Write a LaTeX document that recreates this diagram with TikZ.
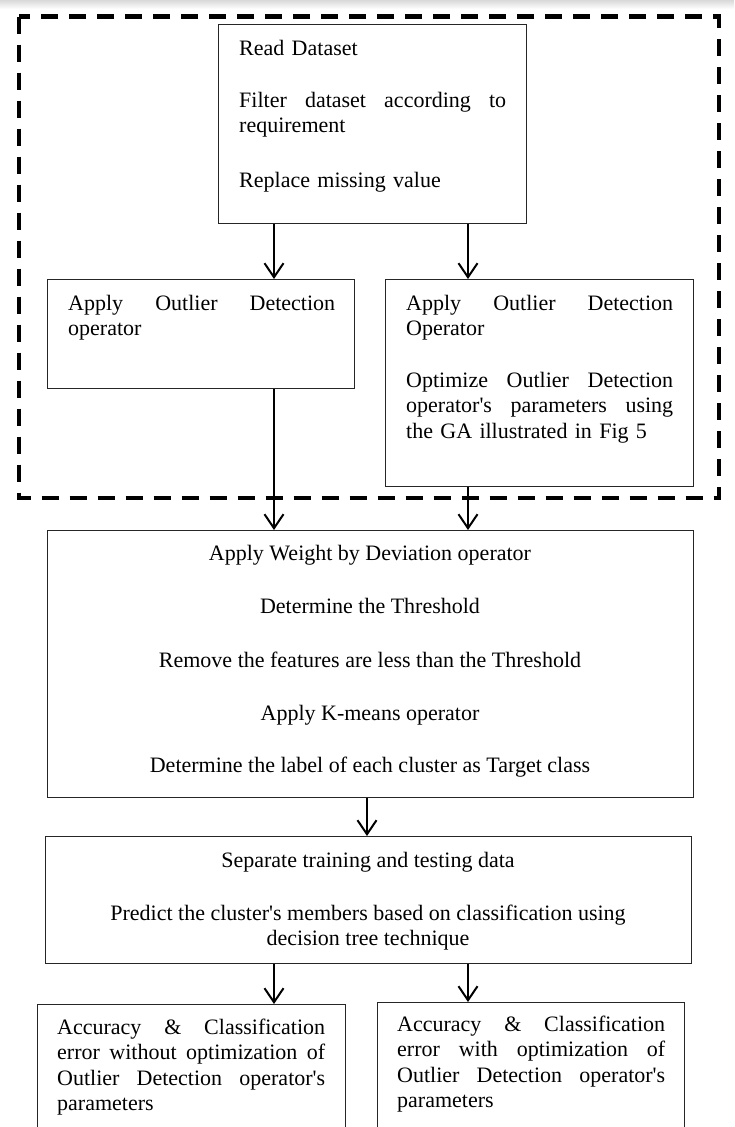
\documentclass[tikz,border=0pt]{standalone}
\usepackage{fontspec}
\setmainfont{Liberation Serif}
\usetikzlibrary{arrows.meta}
% a line stretched to the full text width (justified line)
\newcommand\jl[1]{\leavevmode\hbox to \hsize{#1}}
% straight apostrophe
\newcommand\ap{\textquotesingle}
\begin{document}
\begin{tikzpicture}[x=1pt,y=-1pt,
  box/.style={draw=black!85, line width=1.3pt, inner sep=0pt, anchor=north west},
  txt/.style={inner sep=0pt, anchor=north west, align=left,
    font=\fontsize{22}{25.5}\selectfont},
  ctr/.style={inner sep=0pt, anchor=base, font=\fontsize{22}{25.5}\selectfont},
  ctrblock/.style={inner sep=0pt, anchor=north, align=center,
    font=\fontsize{22}{25.5}\selectfont},
  arr/.style={line width=2pt, -{Straight Barb[length=14pt,width=19pt,line width=2pt]}},
  frame/.style={line width=4.6pt, dash pattern=on 17pt off 11pt}]
\useasboundingbox (0,0) rectangle (734,1127);
\clip (0,0) rectangle (734,1127);
\fill[white] (0,0) rectangle (734,1127);
\shade[top color=gray!30, bottom color=white] (0,0) rectangle (734,9);

% dashed frame around the outlier detection stage
\draw[frame] (19,16.5) rectangle (719,498);

% boxes
\node[box, minimum width=308, minimum height=199] (read) at (218,24) {};
\node[box, minimum width=307, minimum height=109] (od1) at (47,279) {};
\node[box, minimum width=308, minimum height=207] (od2) at (385,279) {};
\node[box, minimum width=646, minimum height=267] (wdev) at (47,530) {};
\node[box, minimum width=646, minimum height=127] (sep) at (45,836) {};
\node[box, minimum width=308, minimum height=140] (accL) at (37,1004) {};
\node[box, minimum width=307, minimum height=142] (accR) at (377,1002) {};

% box texts (first-line baseline minus strut height 17.85)
\node[txt, text width=267] (r1) at (239,37.15) {\strut Read Dataset};
\node[txt, text width=267] (r2) at (239,89.15)
  {\jl{\strut Filter\hfill dataset\hfill according\hfill to}\\requirement};
\node[txt, text width=267] (r3) at (239,169.15) {\strut Replace missing value};

\node[txt, text width=267] (o1) at (68,292.15)
  {\jl{\strut Apply\hfill Outlier\hfill Detection}\\operator};

\node[txt, text width=267] (o2a) at (406,292.15)
  {\jl{\strut Apply\hfill Outlier\hfill Detection}\\Operator};
\node[txt, text width=267] (o2b) at (406,369.15)
  {\jl{\strut Optimize\hfill Outlier\hfill Detection}\\
   \jl{operator\ap s\hfill parameters\hfill using}\\the GA illustrated in Fig 5};

\node[ctr] (w1) at (370,560) {Apply Weight by Deviation operator};
\node[ctr] (w2) at (370,613) {Determine the Threshold};
\node[ctr] (w3) at (370,667) {Remove the features are less than the Threshold};
\node[ctr] (w4) at (370,720) {Apply K-means operator};
\node[ctr] (w5) at (370,772) {Determine the label of each cluster as Target class};

\node[ctr] (s1) at (368,867) {Separate training and testing data};
\node[ctrblock] (s2) at (368,902.15)
  {\strut Predict the cluster\ap s members based on classification using\\
   decision tree technique};

\node[txt, text width=268] (aL) at (57,1016.15)
  {\jl{\strut Accuracy\hfill \&\hfill Classification}\\
   \jl{error\hfill without\hfill optimization\hfill of}\\
   \jl{Outlier\hfill Detection\hfill operator\ap s}\\parameters};
\node[txt, text width=268] (aR) at (397,1013.15)
  {\jl{\strut Accuracy\hfill \&\hfill Classification}\\
   \jl{error\hfill with\hfill optimization\hfill of}\\
   \jl{Outlier\hfill Detection\hfill operator\ap s}\\parameters};

% arrow columns
\coordinate (xa) at (274,0);
\coordinate (xb) at (468,0);
\coordinate (xc) at (367,0);

\draw[arr] (read.south -| xa) -- (od1.north -| xa);
\draw[arr] (read.south -| xb) -- (od2.north -| xb);
\draw[arr] (od1.south -| xa) -- (wdev.north -| xa);
\draw[arr] (od2.south -| xb) -- (wdev.north -| xb);
\draw[arr] (wdev.south -| xc) -- (sep.north -| xc);
\draw[arr] (sep.south -| xa) -- (accL.north -| xa);
\draw[arr] (sep.south -| xb) -- (accR.north -| xb);
\end{tikzpicture}
\end{document}
